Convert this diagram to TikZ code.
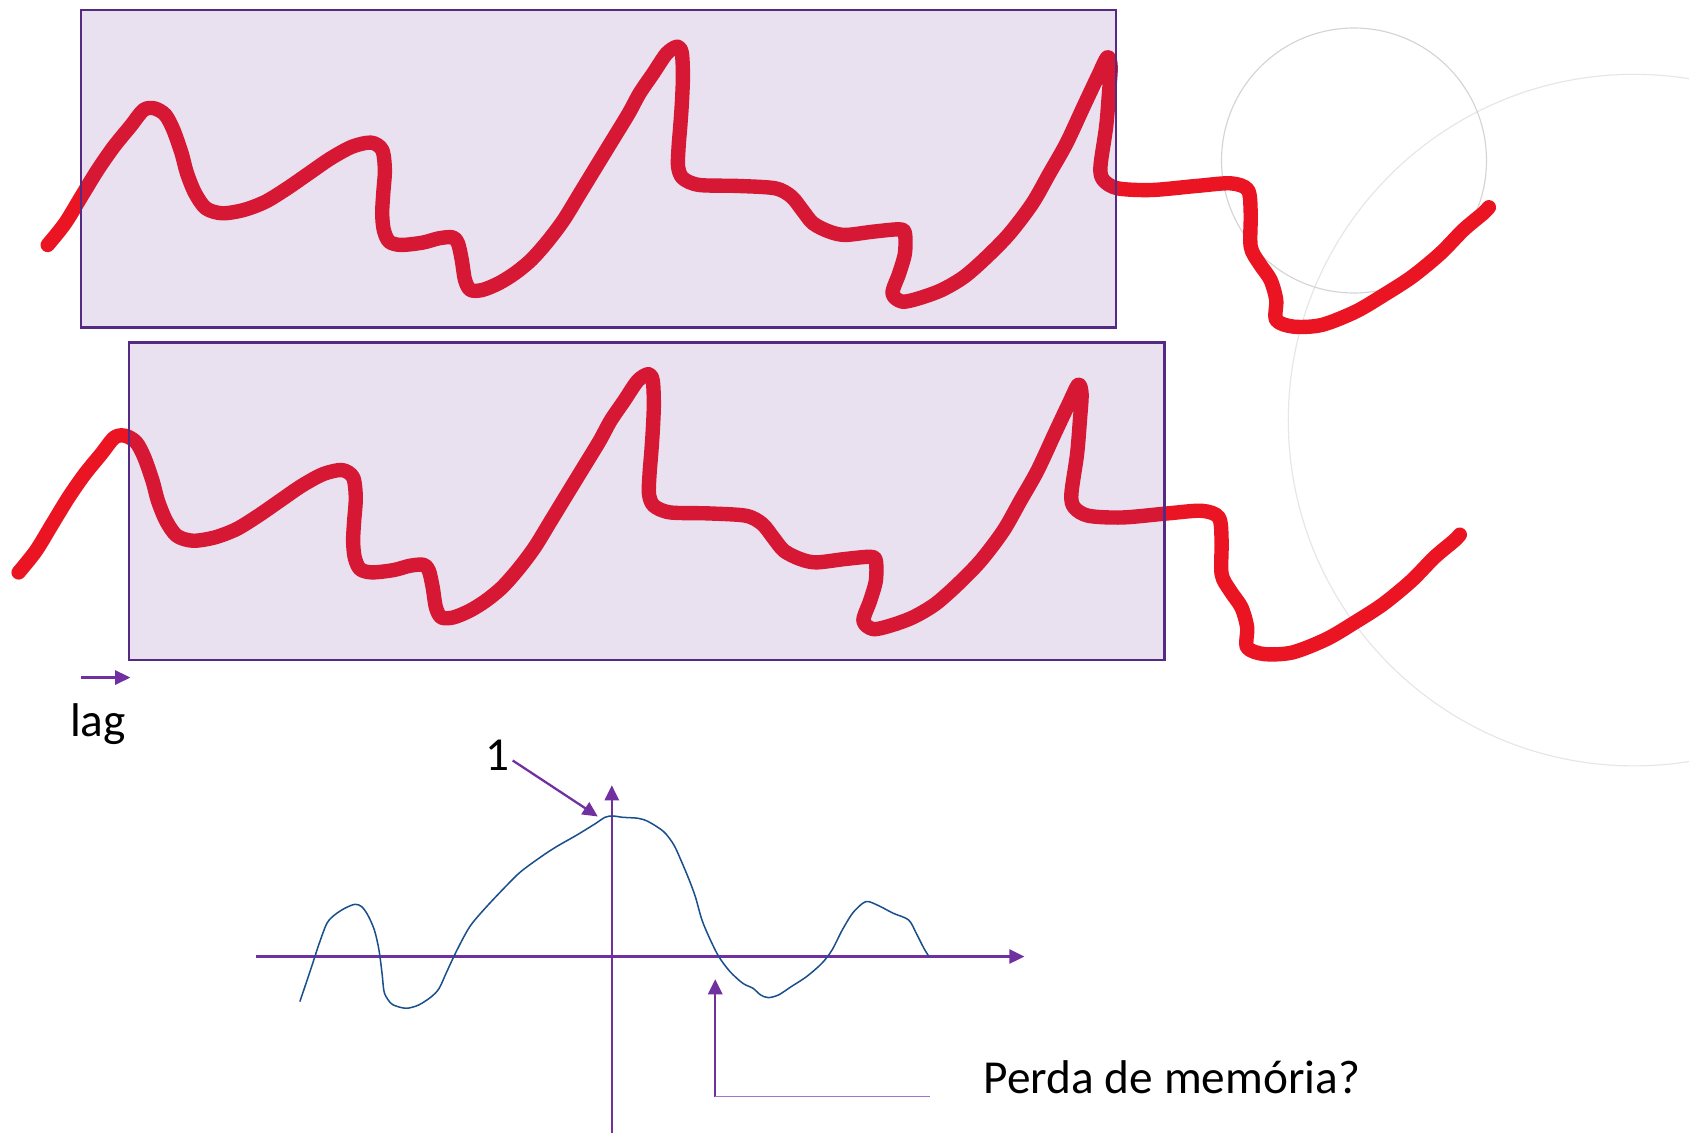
\documentclass[tikz,border=0pt]{standalone}
\usepackage{fontspec}
\setmainfont{Carlito}
\usetikzlibrary{arrows.meta}
\definecolor{inkred}{RGB}{234,20,34}
\definecolor{boxpurple}{RGB}{112,48,160}
\definecolor{boxborder}{RGB}{84,42,130}
\definecolor{axispurple}{RGB}{112,48,160}
\definecolor{lightpurple}{RGB}{160,115,205}
\definecolor{curveblue}{RGB}{25,80,140}
\definecolor{ghosta}{RGB}{212,212,212}
\definecolor{ghostb}{RGB}{230,230,230}
\tikzset{
  redstroke/.style={draw=inkred,line width=7.6pt,line cap=round,line join=round},
  windowbox/.style={draw=boxborder,line width=1.2pt,fill=boxpurple,fill opacity=0.15,draw opacity=1},
  axisline/.style={draw=axispurple,line width=1.2pt},
  axisarrow/.style={axisline,-{Triangle[length=8pt,width=7.5pt]}},
  bluecurve/.style={draw=curveblue,line width=0.8pt,line join=round},
  label/.style={font=\fontsize{25}{30}\selectfont,text=black,inner sep=0pt},
}
\newcommand\redcurve{%
\draw[redstroke] plot[smooth,tension=0.5] coordinates {
(44.3,227.4) (60.4,207.3) (75.5,182.5) (90.6,157.8) (105.7,136.1) (120.8,117.6) (133.3,102.1) (143.4,100.6) (153.5,106.7) (161.0,120.7) (168.6,142.3) (173.6,160.9) (181.2,179.5) (191.2,193.4) (206.3,198.0) (226.4,194.9) (246.6,187.2) (266.7,174.8) (286.8,160.9) (307.0,147.0) (327.1,136.1) (344.7,132.4) (354.8,139.2) (357.3,157.8) (355.8,179.5) (354.8,198.0) (356.3,213.5) (361.3,224.3) (372.4,227.4) (392.5,225.2) (407.6,221.2) (420.2,220.3) (425.2,225.9) (428.7,241.3) (431.7,259.9) (436.8,269.2) (447.8,269.2) (463.0,263.0) (478.0,253.7) (493.1,241.3) (508.2,224.3) (523.3,204.2) (538.4,179.5) (553.5,154.7) (568.6,130.0) (583.7,105.2) (593.8,86.6) (606.4,68.1) (619.0,49.5) (629.0,43.3) (633.0,49.5) (634.0,71.2) (633.0,95.9) (631.5,117.6) (630.0,136.1) (629.5,154.7) (634.0,165.5) (649.1,171.7) (684.4,172.6) (719.6,174.8) (734.7,182.5) (744.7,194.9) (754.8,207.3) (769.9,215.0) (784.8,218.1) (811.1,215.0) (834.8,212.9) (840.1,216.6) (840.1,235.1) (834.8,253.7) (828.5,272.3) (837.4,280.0) (853.2,276.9) (874.3,269.2) (895.3,256.8) (916.4,238.2) (937.4,216.6) (958.5,188.7) (974.3,160.9) (990.1,133.0) (1005.9,99.0) (1019.0,71.2) (1028.0,53.2) (1031.1,61.9) (1029.5,86.6) (1026.9,117.6) (1021.6,154.7) (1024.3,167.1) (1037.4,174.8) (1069.0,176.4) (1111.1,172.6) (1142.7,170.2) (1158.5,176.4) (1161.1,198.0) (1161.1,229.0) (1169.0,244.4) (1179.5,259.9) (1184.8,278.5) (1184.8,297.0) (1200.6,303.2) (1226.9,301.7) (1258.5,289.3) (1284.8,273.8) (1311.1,256.8) (1337.4,235.1) (1358.5,213.5) (1376.9,198.0) (1382.2,192.4)
};}
\begin{document}
\begin{tikzpicture}[x=0.02cm,y=-0.02cm]
\clip (0,0) rectangle (1568,1052);
\fill[white] (0,0) rectangle (1568,1052);
% faint background circles
\draw[ghostb,line width=0.6pt] (1517,390) circle[radius=321];
\draw[ghosta,line width=0.6pt] (1257,149) circle[radius=123];
% red signal, original and lagged copy
\redcurve
\begin{scope}[shift={(-27,304)}]
\redcurve
\end{scope}
% windows
\path[windowbox] (75,9) rectangle (1036,304);
\path[windowbox] (120,318) rectangle (1081,613);
% lag arrow
\coordinate (lagA) at (75,629);
\coordinate (lagB) at (121,629);
\draw[axisarrow] (lagA) -- (lagB);
\node[label,anchor=base] (lagtxt) at (91,684) {lag};
% autocorrelation axes
\coordinate (hxA) at (238,888);
\coordinate (hxB) at (951,888);
\coordinate (vyA) at (568,1052);
\coordinate (vyB) at (568,729);
\draw[axisarrow] (hxA) -- (hxB);
\draw[axisarrow] (vyA) -- (vyB);
% blue curve (in zoomed coords)
\begin{scope}[shift={(213.5,668.4)},xscale=0.4737,yscale=0.3094]
\draw[bluecurve] plot[smooth,tension=0.5] coordinates {
(137,845) (160,740) (175,670) (190,610) (205,585) (225,565) (245,553) (258,560) (270,585) (283,630) (292,690) (298,760) (302,815) (310,840) (320,855) (345,865) (370,855) (395,830) (410,805) (425,755) (445,690) (470,620) (500,565) (540,500) (570,455) (610,410) (640,380) (680,345) (715,312) (735,292) (750,288) (770,292) (800,295) (820,305) (850,335) (870,375) (885,425) (900,480) (912,530) (925,600) (940,655) (958,710) (980,755) (1005,790) (1025,805) (1040,825) (1055,833) (1075,825) (1100,800) (1130,770) (1160,730) (1180,690) (1200,630) (1220,580) (1240,550) (1252,545) (1275,560) (1300,580) (1330,600) (1345,640) (1360,685) (1370,710)
};
\end{scope}
% label 1
\node[label,anchor=base] (one) at (462,715.5) {1};
\coordinate (oneA) at (476,706);
\coordinate (oneB) at (555,758);
\draw[axisarrow] (oneA) -- (oneB);
% Perda de memoria
\coordinate (pmA) at (664,1018);
\coordinate (pmB) at (664,909);
\coordinate (pmC) at (863,1018);
\draw[axisarrow] (pmA) -- (pmB);
\draw[draw=lightpurple,line width=0.9pt] (pmA) -- (pmC);
\node[label,anchor=base west] (pmtxt) at (913,1015.5) {Perda de memória?};
\end{tikzpicture}
\end{document}
